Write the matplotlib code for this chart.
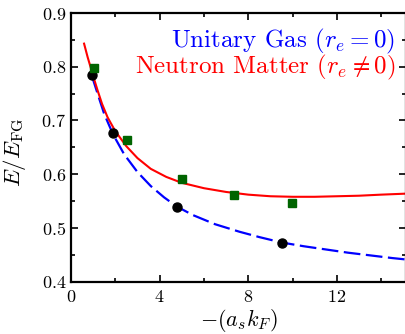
import matplotlib
matplotlib.use("Agg")
import matplotlib.pyplot as plt
from matplotlib.ticker import MultipleLocator

plt.rcParams['font.family'] = 'cmr10'
plt.rcParams['mathtext.fontset'] = 'cm'
plt.rcParams['axes.formatter.use_mathtext'] = True

# curvas
x_nm = [0.59, 0.75, 0.9, 1.05, 1.2, 1.4, 1.65, 2.0, 2.5, 3.0, 3.6, 4.3, 5.0, 6.0, 7.0, 8.0, 9.0, 10.0, 11.0, 12.0, 13.0, 14.0, 15.2]
y_nm = [0.843, 0.818, 0.797, 0.776, 0.756, 0.731, 0.706, 0.680, 0.652, 0.630, 0.610, 0.595, 0.584, 0.574, 0.567, 0.562, 0.559, 0.558, 0.558, 0.559, 0.560, 0.562, 0.564]

x_ug = [0.95, 1.2, 1.5, 1.9, 2.4, 3.0, 3.6, 4.2, 4.77, 5.5, 6.5, 7.6, 8.5, 9.5, 10.5, 11.5, 12.5, 13.5, 14.5, 15.2]
y_ug = [0.782, 0.750, 0.712, 0.674, 0.637, 0.604, 0.578, 0.557, 0.540, 0.524, 0.507, 0.493, 0.483, 0.473, 0.466, 0.460, 0.454, 0.449, 0.444, 0.441]

# pontos
x_circ = [0.96, 1.88, 4.77, 9.54]
y_circ = [0.785, 0.677, 0.539, 0.472]
x_sq = [1.04, 2.51, 5.01, 7.37, 9.99]
y_sq = [0.797, 0.663, 0.591, 0.562, 0.547]

fig = plt.figure(figsize=(4.05, 3.34), dpi=100)
ax = fig.add_axes([71/405, 52.3/334, 335/405, 268.7/334])

ax.plot(x_ug, y_ug, color='#0000ff', lw=1.6, dashes=(7.5, 2.5))
ax.plot(x_nm, y_nm, color='#ff0000', lw=1.5)
ax.plot(x_circ, y_circ, 'o', color='black', ms=6.5)
ax.plot(x_sq, y_sq, 's', color='#006400', ms=6)

ax.set_xlim(0, 15.12)
ax.set_ylim(0.4, 0.9)
ax.xaxis.set_major_locator(MultipleLocator(4))
ax.xaxis.set_minor_locator(MultipleLocator(2))
ax.yaxis.set_major_locator(MultipleLocator(0.1))
ax.yaxis.set_minor_locator(MultipleLocator(0.05))
ax.tick_params(which='both', direction='in', top=True, right=True, labelsize=13, width=1.2)
ax.tick_params(which='major', length=5)
ax.tick_params(which='minor', length=3)
ax.tick_params(axis='x', pad=5)
for s in ax.spines.values():
    s.set_linewidth(1.6)

ax.set_xlabel(r'$-(a_sk_F)$', fontsize=16)
ax.set_ylabel(r'$E/E_{\rm FG}$', fontsize=16.5)
ax.xaxis.set_label_coords(0.5, -0.095)
ax.yaxis.set_label_coords(-0.127, 0.483)

ax.text(0.967, 0.895, r'Unitary Gas ($r_e=0$)', color='#0000ff', fontsize=18,
        ha='right', va='center', transform=ax.transAxes)
ax.text(0.967, 0.797, r'Neutron Matter ($r_e\neq0$)', color='#ff0000', fontsize=18,
        ha='right', va='center', transform=ax.transAxes)

fig.savefig('out.png', dpi=100)
